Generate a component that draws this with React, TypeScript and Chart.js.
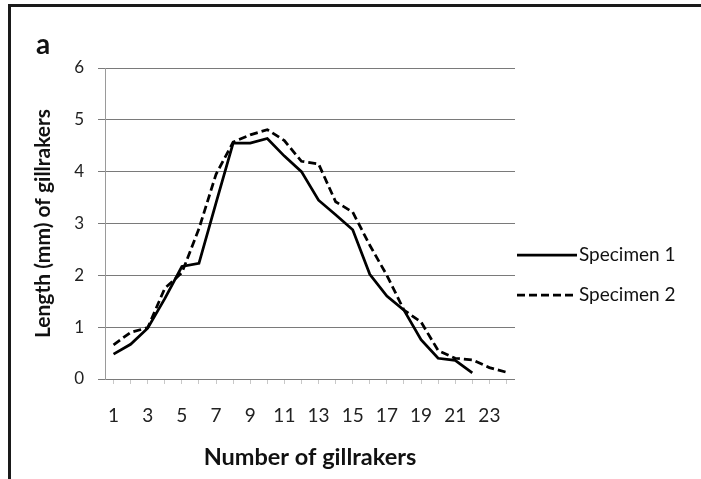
import React, { useEffect, useRef } from "react";
import { Chart, registerables } from "chart.js";

Chart.register(...registerables);

const categories = [
  "1", "2", "3", "4", "5", "6", "7", "8", "9", "10", "11", "12",
  "13", "14", "15", "16", "17", "18", "19", "20", "21", "22", "23", "24",
];

const specimen1 = [
  0.48, 0.67, 0.98, 1.55, 2.17, 2.23, 3.4, 4.55, 4.55, 4.64, 4.3, 4.0,
  3.45, 3.17, 2.88, 2.02, 1.6, 1.33, 0.76, 0.4, 0.36, 0.12, null, null,
];

const specimen2 = [
  0.66, 0.9, 0.99, 1.75, 2.05, 2.9, 3.95, 4.57, 4.71, 4.81, 4.6, 4.2,
  4.15, 3.42, 3.22, 2.58, 2.0, 1.33, 1.1, 0.55, 0.4, 0.37, 0.22, 0.13,
];

const seriesNames = ["Specimen 1", "Specimen 2"];
const yTickValues = [0, 1, 2, 3, 4, 5, 6];
const xTitle = "Number of gillrakers";
const yTitle = "Length (mm) of gillrakers";
const panelLabel = "a";

const FONT = "Lato, 'Open Sans', sans-serif";

const legendPlugin = {
  id: "customLegend",
  afterDraw(chart: any) {
    const { ctx, chartArea } = chart;
    ctx.save();
    chart.data.datasets.forEach((ds: any, i: number) => {
      const y = 255 + i * 40;
      const x0 = chartArea.right + 2;
      const x1 = x0 + 60;
      ctx.beginPath();
      ctx.setLineDash(ds.borderDash || []);
      ctx.lineWidth = ds.borderWidth;
      ctx.strokeStyle = ds.borderColor;
      ctx.moveTo(x0, y);
      ctx.lineTo(x1, y);
      ctx.stroke();
      ctx.setLineDash([]);
      ctx.fillStyle = "#111";
      ctx.font = `19px ${FONT}`;
      ctx.textBaseline = "middle";
      ctx.textAlign = "left";
      ctx.fillText(ds.label, x1 + 2, y);
    });
    ctx.restore();
  },
};

export default function App() {
  const canvasRef = useRef<HTMLCanvasElement | null>(null);

  useEffect(() => {
    if (!canvasRef.current) return;
    const chart = new Chart(canvasRef.current, {
      type: "line",
      data: {
        labels: categories,
        datasets: [
          {
            label: seriesNames[0],
            data: specimen1,
            borderColor: "#000",
            borderWidth: 2.75,
            pointRadius: 0,
            tension: 0,
            fill: false,
          },
          {
            label: seriesNames[1],
            data: specimen2,
            borderColor: "#000",
            borderWidth: 2.75,
            borderDash: [8, 4],
            pointRadius: 0,
            tension: 0,
            fill: false,
          },
        ],
      },
      options: {
        animation: false,
        responsive: false,
        events: [],
        layout: { padding: { left: 20, right: 186, top: 68, bottom: 0 } },
        plugins: {
          legend: { display: false },
          tooltip: { enabled: false },
        },
        scales: {
          x: {
            type: "category",
            offset: true,
            grid: {
              drawOnChartArea: false,
              drawTicks: true,
              tickLength: 5,
              color: "#c8c8c8",
            },
            border: { display: false },
            ticks: {
              autoSkip: false,
              maxRotation: 0,
              padding: 20,
              color: "#222",
              font: { family: FONT, size: 19 },
              callback: (_v: any, idx: number) =>
                idx % 2 === 0 ? categories[idx] : "",
            },
            title: {
              display: true,
              text: xTitle,
              color: "#111",
              font: { family: FONT, size: 23.5, weight: "bold" },
              padding: { top: 0, bottom: 7 },
            },
            afterFit: (scale: any) => {
              scale.height = 100;
            },
          },
          y: {
            min: 0,
            max: 6,
            afterBuildTicks: (scale: any) => {
              scale.ticks = yTickValues.map((v) => ({ value: v }));
            },
            grid: {
              color: "#7a7a7a",
              lineWidth: 1,
              tickLength: 7,
            },
            border: { display: true, color: "#9a9a9a", width: 1 },
            ticks: {
              padding: 14,
              color: "#222",
              font: { family: FONT, size: 17 },
            },
            title: {
              display: true,
              text: yTitle,
              color: "#111",
              font: { family: FONT, size: 21, weight: "bold" },
              padding: { top: 11, bottom: 0 },
            },
            afterFit: (scale: any) => {
              scale.width = 85;
            },
          },
        },
      },
      plugins: [legendPlugin],
    });
    return () => chart.destroy();
  }, []);

  return (
    <div
      style={{
        position: "fixed",
        left: 0,
        top: 0,
        width: 701,
        height: 479,
        background: "#fff",
        overflow: "hidden",
      }}
    >
      <canvas
        ref={canvasRef}
        width={701}
        height={479}
        style={{ position: "absolute", left: 0, top: 0, width: 701, height: 479 }}
      />
      <div
        style={{
          position: "absolute",
          left: 8,
          top: 4,
          width: 701,
          height: 479,
          borderTop: "3px solid #1a1a1a",
          borderLeft: "3px solid #1a1a1a",
          pointerEvents: "none",
        }}
      />
      <div
        style={{
          position: "absolute",
          left: 36,
          top: 29,
          fontFamily: FONT,
          fontWeight: "bold",
          fontSize: 28,
          lineHeight: "28px",
          color: "#111",
        }}
      >
        {panelLabel}
      </div>
    </div>
  );
}
